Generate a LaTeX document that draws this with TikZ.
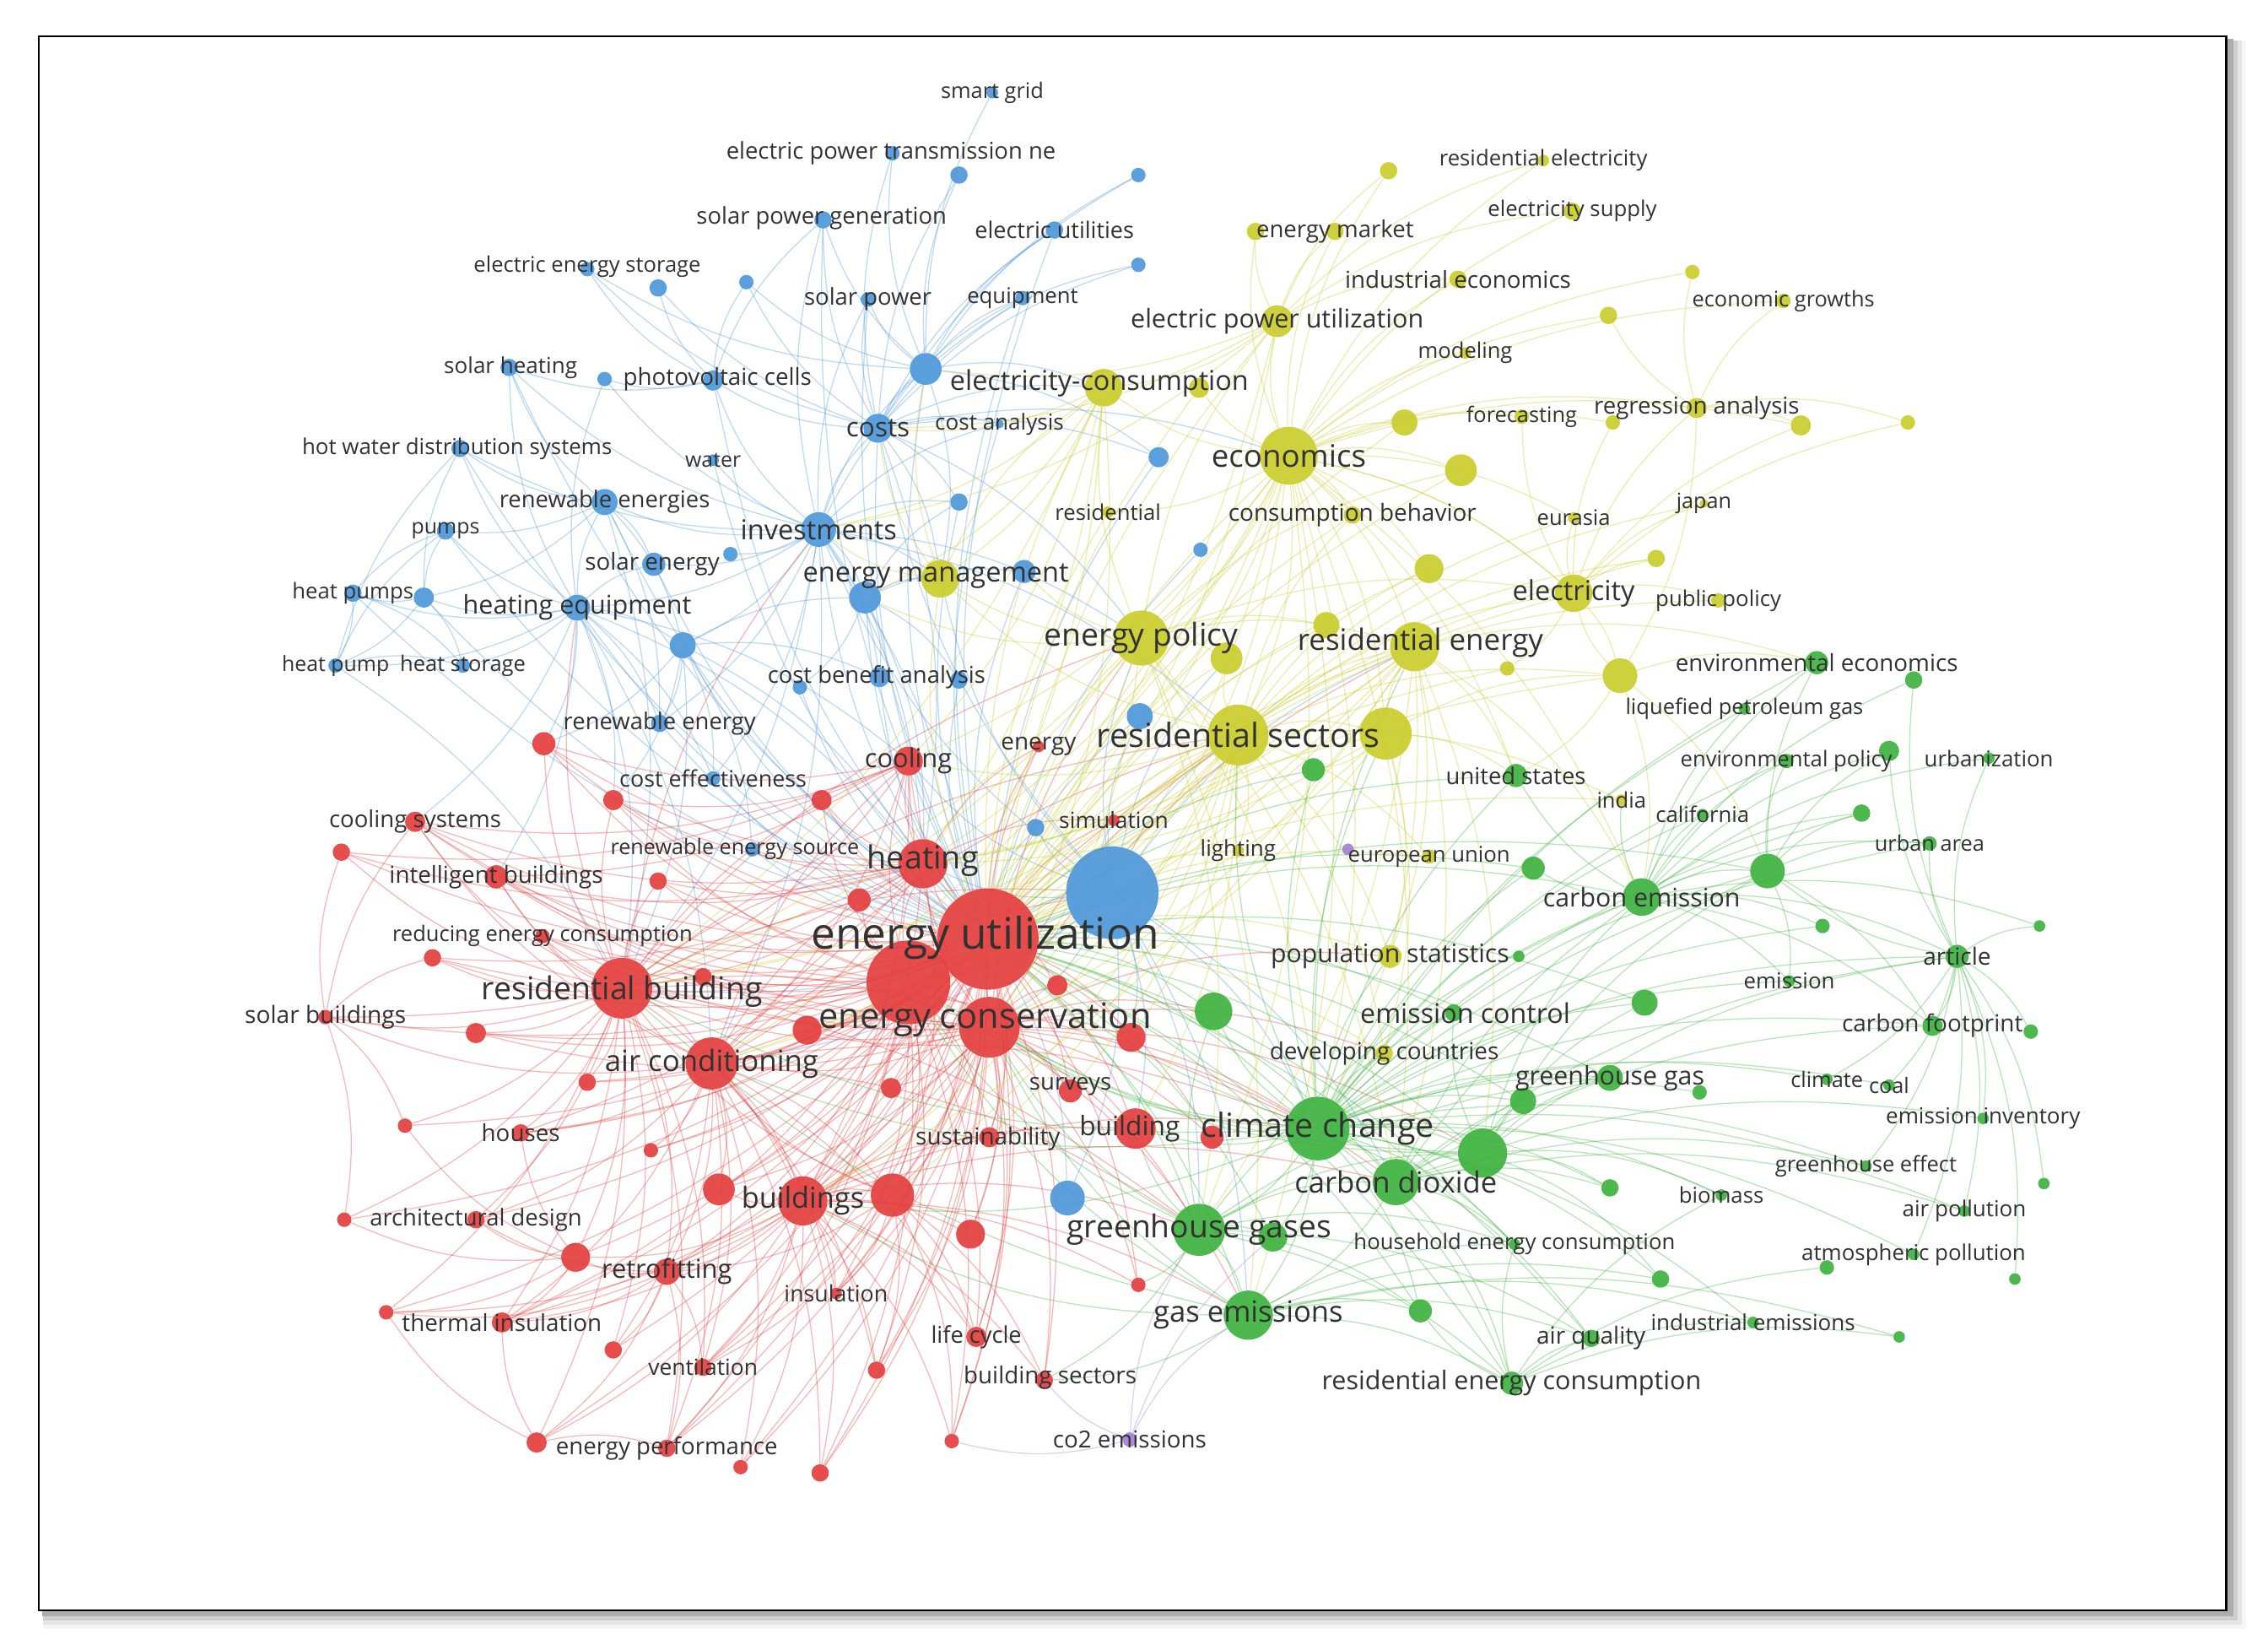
\documentclass[tikz,border=0pt]{standalone}
\usepackage{fontspec}
\setmainfont{Open Sans}
\definecolor{cR}{RGB}{228,62,62}
\definecolor{cB}{RGB}{78,152,218}
\definecolor{cY}{RGB}{202,204,44}
\definecolor{cG}{RGB}{62,178,62}
\definecolor{cP}{RGB}{165,125,215}
\definecolor{txt}{RGB}{50,50,50}
\pgfdeclarelayer{back}
\pgfdeclarelayer{edges}
\pgfsetlayers{back,edges,main}
\tikzset{
  vnode/.style={circle, inner sep=0pt, draw=none, fill opacity=0.92},
  vlab/.style={inner sep=0pt, text=txt},
  ebase/.style={line width=0.75pt, draw opacity=0.36},
  eR/.style={ebase, draw=cR},
  eB/.style={ebase, draw=cB},
  eY/.style={ebase, draw=cY},
  eG/.style={ebase, draw=cG},
  eP/.style={ebase, draw=cP},
}
\newcommand\vedges[3]{\foreach \b in {#3}{\draw[#1] (#2) to[bend left=14] (\b);}}
\begin{document}
\begin{tikzpicture}[x=1pt,y=-1pt]
\useasboundingbox (0,0) rectangle (1568,1140);
\begin{pgfonlayer}{back}
  \fill[white] (0,0) rectangle (1568,1140);
  \fill[black!4] (30,28) rectangle (1553,1126);
  \fill[black!10] (30,28) rectangle (1550,1123);
  \fill[black!19] (30,28) rectangle (1547,1120);
  \fill[black!32] (29,27) rectangle (1544,1117);
  \fill[white, draw=black, line width=1.4pt] (27,25) rectangle (1539,1113);
\end{pgfonlayer}

% ---------------- circles ----------------
\foreach \n/\x/\y/\r/\c in {
 sg/686/64/4/cB, eptn/617/106/5/cB, b3/663/121/6/cB, b4/787/121/5/cB, spg/569/152/6/cB,
 eut/729/159/6/cB, b7/787/183/5/cB, ees/406/186/5/cB, b9/455/199/6/cB, b10/516/195/5/cB,
 sp/600/207/5/cB, eqp/707/206/5/cB, sh/352/254/6/cB, b14/418/262/5/cB, pvc/493/263/7/cB,
 b16/640/255/11/cB, costs/607/296/10/cB, ca/691/293/3/cB, hwds/318/310/6/cB, water/493/318/4/cB,
 b21/663/347/6/cB, b22/801/316/7/cB, rens/418/347/9/cB, pumps/308/367/6/cB, inv/566/366/12/cB,
 se/452/390/8/cB, b27/505/383/5/cB, hps/244/410/6/cB, b29/293/413/7/cB, he/399/420/9/cB,
 hp/232/460/5/cB, hst/320/460/5/cB, b33/472/446/9/cB, cba/608/468/7/cB, b35/553/475/5/cB,
 b36/663/470/6/cB, b37/598/413/11/cB, b38/708/395/8/cB, ren/456/500/6/cB, ce/493/538/5/cB,
 b41/788/495/9/cB, b42/716/572/6/cB, b44/738/828/12/cB, b45/830/380/5/cB, res/520/587/5/cB,
 rel/1067/111/4/cY, y2/960/118/6/cY, esup/1087/146/6/cY, em/923/160/6/cY, y4b/868/160/6/cY,
 iec/1008/193/6/cY, egr/1233/208/5/cY, y7/1170/188/5/cY, y8/1112/218/6/cY, epu/883/222/11/cY,
 mod/1013/244/4/cY, ecc/763/268/13/cY, y11b/829/268/7/cY, fc/1052/288/5/cY, ra/1173/282/7/cY,
 y14/1245/294/7/cY, y14b/1319/292/5/cY, y14c/1115/292/5/cY, y15/971/292/9/cY, econ/891/315/20/cY,
 y17/1010/325/11/cY, resi/766/354/4/cY, cb/935/356/6/cY, eur/1088/358/4/cY, jap/1178/348/3/cY,
 y22/1145/386/6/cY, y23/988/393/10/cY, elec/1088/410/13/cY, pp/1188/415/5/cY, ep/789/441/19/cY,
 y27/848/455/11/cY, y28/917/432/9/cY, reg/978/447/17/cY, y30/1120/467/12/cY, rs/856/508/21/cY,
 y32/958/507/18/cY, y33/1042/462/5/cY, emg/650/400/13/cY, ps/961/661/8/cY, eun/988/592/5/cY,
 lig/856/588/4/cY, ind/1121/553/4/cY, dc/957/728/6/cY,
 envec/1256/458/8/cG, g2/1323/470/6/cG, lpg/1206/490/4/cG, urb/1375/524/4/cG, envp/1235/526/5/cG,
 g6/1306/519/7/cG, us/1048/536/8/cG, g8/908/532/8/cG, cal/1177/563/4/cG, ua/1334/583/5/cG,
 g11/1287/562/6/cG, g12/1222/602/12/cG, g13/1060/600/8/cG, cem/1135/620/13/cG, g15/1260/640/5/cG,
 g16/1410/640/4/cG, art/1353/661/8/cG, g18/1050/661/4/cG, emi/1237/678/4/cG, emc/1005/700/6/cG,
 g21/839/699/13/cG, g22/1137/693/9/cG, cfp/1336/709/7/cG, g24/1404/713/5/cG, ghg/1113/745/9/cG,
 g25b/1053/761/9/cG, g25c/1175/755/5/cG, clim/1263/746/4/cG, coal/1306/750/4/cG, einv/1371/773/4/cG,
 g29/1025/797/17/cG, cd/965/817/16/cG, gef/1290/806/4/cG, bio/1190/826/4/cG, g32b/1113/821/6/cG,
 g33/1413/818/4/cG, ap/1358/837/4/cG, g36/880/855/10/cG, ghgs/829/850/18/cG, hec/1047/860/4/cG,
 atp/1323/867/4/cG, g38b/1263/876/5/cG, g38c/1393/884/4/cG, g38d/1148/884/6/cG, gem/863/909/17/cG,
 g40/982/906/8/cG, aq/1100/925/6/cG, iem/1212/914/4/cG, g43/1313/924/4/cG, rec/1045/956/8/cG,
 cc/911/780/22/cG,
 co2/781/995/5/cP, p2/932/587/4/cP,
 r5/594/622/8/cR, r6/568/553/7/cR, r7/558/712/10/cR, r8/731/681/7/cR, r9/782/717/10/cR,
 r10/616/752/7/cR, sur/740/754/8/cR, bld/785/780/14/cR, sus/684/786/7/cR, r14/838/786/8/cR,
 r15/376/514/8/cR, r16/424/553/7/cR, cs/287/568/7/cR, r18/236/589/6/cR, ib/343/606/8/cR,
 r20/455/609/6/cR, redc/375/647/5/cR, r22/299/662/6/cR, r24/486/675/6/cR, sb/225/703/5/cR,
 r26/329/714/7/cR, r28/406/748/6/cR, r29/280/778/5/cR, hou/360/783/6/cR, r31/450/795/5/cR,
 r32/497/822/11/cR, r34/617/826/15/cR, r35/671/853/10/cR, ad/329/843/6/cR, r37/238/843/5/cR,
 r38/398/869/10/cR, retro/461/879/9/cR, ins/578/894/4/cR, r41/267/907/5/cR, ti/347/914/7/cR,
 r43/424/933/6/cR, vent/486/945/6/cR, r45/606/947/6/cR, lc/675/924/7/cR, bs/722/954/6/cR,
 r48/787/888/5/cR, r49/371/997/7/cR, epf/461/1001/6/cR, r51/512/1014/5/cR, r52/567/1018/6/cR,
 r53/658/996/5/cR, sim/770/567/4/cR, en/718/516/4/cR, cool/628/526/10/cR,
 rb/430/683/21/cR, ac/492/735/18/cR, bds/555/830/17/cR,
 heat/638/597/17/cR, econs/684/710/21/cR, eu2/628/679/29/cR, eu/683/649/35/cR,
 ee/769/617/32/cB}
 {\node[vnode, fill=\c, minimum size={2*\r*1pt}] (\n) at (\x,\y) {};}

% ---------------- edges ----------------
\begin{pgfonlayer}{edges}
\vedges{eB}{eu}{b16,costs,inv,rens,he,se,b33,cba,b35,b36,b37,b38,ren,ce,b41,ee,b44,b21,pvc,spg,sp,eqp,b22,res,b42,hps,b29,pumps,hwds,sh,eut,water,b45,ca}
\vedges{eB}{ee}{eu2,econs,heat,ep,rs,cc,ghgs,bld,rb,ac,inv,costs,b41,b44,y27,reg,emg,cd,gem,cool,r9,b42,sim}
\vedges{eB}{inv}{costs,b16,rens,se,he,b33,cba,b37,pvc,spg,sp,water,b27,hwds,eqp,ca,b21,ren,ce,b14,sh}
\vedges{eB}{costs}{b16,spg,eptn,sp,eqp,ca,b3,eut,ees,b9,b10,pvc,b21,b22,b4,b7}
\vedges{eB}{he}{hps,hp,hst,pumps,b29,rens,se,sh,hwds,b33,ren,ce,b14}
\vedges{eB}{b29}{hps,hp,hst,pumps,hwds}
\vedges{eB}{hps}{hp,pumps,hst}
\vedges{eB}{b16}{eut,b7,b4,b3,eptn,sg,spg,sp,eqp,ees,b10,ecc,emg,b22}
\vedges{eB}{b33}{rb,ren,ce,heat,r15,r16,res,b37,cba}
\vedges{eB}{b37}{cba,b35,b36,b38,b21,emg,heat}
\vedges{eB}{pvc}{ees,b9,b10,sh,b14,spg}
\vedges{eB}{he}{rb,ac,heat,cool,r15,r16,cs,ib}
\vedges{eB}{inv}{rb,ac,heat,econs,ep,emg,rs}
\vedges{eB}{costs}{ep,emg,econ,ecc,heat}
\vedges{eB}{rens}{se,ren,b33,hwds,sh,pumps,b29,rb}
\vedges{eB}{hp}{pumps,hst,hwds,rb}
\vedges{eR}{eu}{econs,heat,cool,en,r5,r6,r7,r8,r9,r10,sur,bld,sus,r14,r15,r16,cs,r18,ib,r20,redc,r22,rb,r24,sb,r26,ac,r28,r29,hou,r31,r32,bds,r34,r35,ad,r37,r38,retro,ins,r41,ti,r43,vent,r45,lc,bs,r48,r49,epf,r51,r52,r53,sim}
\vedges{eR}{eu2}{heat,cool,r5,r6,r7,r10,rb,ac,bds,r34,r32,r24,r20,r16,r15,ib,cs,redc,r22,r26,r28,hou,r31,retro,ins,ti,vent,r45,epf,r52,r53,lc,sus,sur}
\vedges{eR}{rb}{redc,ib,cs,r18,sb,r22,r26,r28,r29,hou,ad,r37,r38,retro,ti,r41,r43,r49,epf,ac,bds,r15,r16,r20,r24,heat,cool,econs,vent}
\vedges{eR}{ac}{bds,r32,r34,retro,ins,vent,hou,r31,ad,ti,r43,r45,lc,epf,r51,r52,heat,cool,sb,ib,cs,econs}
\vedges{eR}{bds}{r34,r35,retro,ins,lc,bs,vent,r45,r53,r52,r51,epf,r49,ti,r41,bld,sus,r48,r38,r32}
\vedges{eR}{econs}{bld,sur,sus,r8,r9,r10,r14,r35,lc,bs,r48,r53,heat,cool,en,r34}
\vedges{eR}{heat}{cool,en,r5,r6,ib,cs,r16,r20,sim,res}
\vedges{eR}{sb}{r37,r29,cs,r18,r22}
\vedges{eR}{r49}{epf,ti,r41}
\vedges{eR}{econs}{rb,ac,bds,r32,r7,r24,r26,ib,cs,redc,retro,ti,epf,vent,ins,r45,r52,r51}
\vedges{eR}{r34}{ac,rb,retro,lc,bs,r53,r45,ins,vent}
\vedges{eR}{heat}{rb,ac,bds,r34,r15,r18,r22,sb,hou}
\vedges{eR}{cool}{rb,ac,cs,ib,r15,r16,r18,bds}
\vedges{eR}{retro}{ti,r43,vent,epf,r49,ad,r38,r41}
\vedges{eR}{r38}{ad,ti,r41,r37,hou,r29}
\vedges{eR}{rb}{cc,ghgs,rs,ep,ee,he,inv}
\vedges{eR}{ac}{cc,ghgs,rs,ee}
\vedges{eR}{bds}{cc,ghgs,gem,cd,rs}
\vedges{eR}{econs}{cc,ghgs,gem,cd,g29,rs,ep,reg,g21,ps,dc}
\vedges{eY}{eu}{econ,rs,y32,ep,y27,y28,reg,y30,elec,y23,y17,y15,ecc,y11b,epu,emg,cb,resi,ps,dc,lig,eun,ind,y33,y22}
\vedges{eY}{econ}{epu,ecc,y11b,y15,y17,em,y4b,iec,y2,rel,esup,mod,fc,ra,y14,y14c,cb,resi,eur,ep,reg,rs,y32,y23,elec,y8,y7,egr}
\vedges{eY}{rs}{ep,reg,y32,elec,y30,y23,y28,y27,cb,jap,pp,eur,y22,ind,eun,lig,ps,dc,emg,econs,heat,eu2}
\vedges{eY}{ep}{emg,ecc,epu,y27,y28,reg,y17,elec,b38,b37}
\vedges{eY}{elec}{ra,y14,y14b,y14c,y22,jap,pp,eur,y30,fc,y33}
\vedges{eY}{ra}{egr,y14,y14b,y7,y8,y30}
\vedges{eY}{epu}{em,y4b,iec,esup,y2,rel,ecc}
\vedges{eY}{emg}{inv,costs,ecc,b16}
\vedges{eY}{y32}{y30,reg,ps,dc,us,g8}
\vedges{eY}{econ}{cc,cd,ghgs,gem,us,cem,elec}
\vedges{eY}{reg}{cc,cd,g29,ghgs,us,cem,envec,ps}
\vedges{eY}{ep}{cc,cd,ghgs,gem,econs,eu2,rb}
\vedges{eY}{y30}{envec,cem,us,g12,elec}
\vedges{eY}{rs}{heat,cool,r9,bld,sur,sus,ac,rb,bds,r7,r34}
\vedges{eY}{econ}{eu2,heat,econs,cool,rb,ac,ee,b41}
\vedges{eY}{ecc}{eu2,heat,cool,costs,inv,econs,rb,emg,b37}
\vedges{eY}{reg}{eu2,heat,econs,rb,ac,bds}
\vedges{eY}{y32}{eu2,econs,heat}
\vedges{eY}{epu}{eu,eu2,costs,b16,inv}
\vedges{eG}{eu}{cc,g29,cd,ghgs,g36,gem,g40,cem,g12,g13,g21,g22,ghg,g25b,rec,hec,aq,us,g8,emc}
\vedges{eG}{cc}{g29,cd,ghgs,g36,gem,g40,cem,g12,g13,g21,g22,ghg,g25b,g25c,rec,hec,aq,us,g8,emc,envec,envp,lpg,cal,ua,art,emi,cfp,clim,coal,gef,bio,g32b,ap,atp,iem,g38d,g15,g11,rs,y32,reg,ps,dc}
\vedges{eG}{ghgs}{cd,gem,g36,g40,rec,hec,aq,g21,g29,cem,ghg,econs,eu2,bld,bs,r48}
\vedges{eG}{cd}{g29,gem,rec,hec,cem,g12,ghg,art,cfp,einv,gef,ap,g32b}
\vedges{eG}{gem}{rec,g40,aq,hec,iem,g38d,g43,bs}
\vedges{eG}{cem}{g12,g13,art,emi,ua,urb,g11,cal,envp,envec,g2,g6,g15,g16,cfp,us,ind,lpg}
\vedges{eG}{art}{g12,g16,g24,cfp,ua,urb,einv,clim,coal,ap,gef,g33,atp,g38c,g6,g2}
\vedges{eG}{g12}{g11,ua,envec,g6,cfp,emi,envp}
\vedges{eG}{rec}{aq,hec,iem,g43,g38b,bio,g40}
\vedges{eG}{g29}{ghg,g25b,g22,emc,g32b,bio,g38d}
\vedges{eG}{cc}{econs,eu2,bld,rb,ac,bds,heat}
\vedges{eG}{g29}{econs,eu2,cem,g12,art}
\vedges{eG}{gem}{econs,eu2,rb,bds}
\vedges{eP}{co2}{gem,ghgs,bs,r53,g36}
\end{pgfonlayer}

% ---------------- labels ----------------
\foreach \n/\x/\y/\s/\t in {
 sg/686/64/14.8/smart grid, eptn/616/106/16/electric power transmission ne,
 spg/568/151/16/solar power generation, eut/729/159/15.8/electric utilities,
 ees/406/184/14.9/electric energy storage, sp/600/207/16/solar power, eqp/707/206/15/equipment,
 sh/353/254/15.2/solar heating, pvc/496/262/16.2/photovoltaic cells, costs/607/296/18.4/costs,
 ca/691/293/15.2/cost analysis, hwds/316/310/15.1/hot water distribution systems,
 water/493/318/14.5/water, rens/418/347/16/renewable energies, pumps/308/367/14.5/pumps,
 inv/566/366/19/investments, se/451/390/16.2/solar energy, hps/244/410/15/heat pumps,
 he/399/420/17.8/heating equipment, hp/232/460/14.5/heat pump, hst/320/460/14.9/heat storage,
 cba/606/468/16/cost benefit analysis, ren/456/500/16/renewable energy,
 ce/493/538/15.7/cost effectiveness, res/508/587/14.7/renewable energy source,
 rel/1067/111/15/residential electricity, esup/1087/146/15/electricity supply,
 em/923/160/16.1/energy market, iec/1008/193/16.2/industrial economics,
 egr/1233/208/14.8/economic growths, epu/883/222/17.8/electric power utilization,
 mod/1013/244/14.9/modeling, ecc/760/265/18.9/electricity-consumption, fc/1052/288/14.8/forecasting,
 ra/1173/282/16.1/regression analysis, econ/891/315/21.4/economics, resi/766/354/15/residential,
 cb/935/356/16.3/consumption behavior, eur/1088/358/14.9/eurasia, jap/1178/348/14.7/japan,
 elec/1088/410/19/electricity, pp/1188/415/15/public policy, ep/789/441/21.8/energy policy,
 reg/982/444/20.4/residential energy, rs/856/508/23/residential sectors,
 emg/647/398/19/energy management, ps/961/661/17.6/population statistics,
 eun/988/592/15/european union, lig/856/588/15.2/lighting, ind/1121/553/14.9/india,
 dc/957/728/16.3/developing countries,
 envec/1256/458/16.2/environmental economics, lpg/1206/490/14.9/liquefied petroleum gas,
 urb/1375/524/15.1/urbanization, envp/1235/526/15/environmental policy,
 us/1048/536/16/united states, cal/1177/563/15/california, ua/1334/583/14.8/urban area,
 cem/1135/620/17.7/carbon emission, art/1353/661/16.4/article, emi/1237/678/15.1/emission,
 emc/1013/700/18.8/emission control, cfp/1336/709/16.3/carbon footprint,
 ghg/1113/745/17.7/greenhouse gas, clim/1263/746/14.8/climate, coal/1306/750/14.7/coal,
 einv/1371/773/15.2/emission inventory, cc/911/780/23/climate change,
 cd/965/817/20.2/carbon dioxide, gef/1290/806/14.9/greenhouse effect, bio/1190/826/15/biomass,
 ap/1358/837/15.2/air pollution, ghgs/829/850/21.7/greenhouse gases,
 hec/1047/860/15/household energy consumption, atp/1323/867/15.1/atmospheric pollution,
 gem/863/909/20.2/gas emissions, aq/1100/925/16.3/air quality,
 iem/1212/914/15.2/industrial emissions, rec/1045/956/17.8/residential energy consumption,
 co2/781/995/16.2/co2 emissions,
 eu/681/648/30/energy utilization, econs/681/705/24.3/energy conservation,
 heat/638/595/22/heating, cool/628/526/18/cooling, en/718/516/16.3/energy,
 sur/740/751/16.1/surveys, bld/781/780/18.5/building, sus/683/787/16.3/sustainability,
 sim/770/567/15.4/simulation, cs/287/568/16.1/cooling systems,
 ib/343/606/16.2/intelligent buildings, redc/375/647/14.9/reducing energy consumption,
 rb/430/685/21.8/residential building, sb/225/703/16.4/solar buildings,
 ac/492/735/20.3/air conditioning, hou/360/783/16.2/houses, bds/555/830/20/buildings,
 ad/329/843/16/architectural design, retro/461/879/18/retrofitting, ins/578/894/15.6/insulation,
 ti/347/914/16.2/thermal insulation, vent/486/945/15.4/ventilation, lc/675/924/15.9/life cycle,
 bs/726/952/16.2/building sectors, epf/461/1001/16.1/energy performance}
 {\node[vlab, font=\fontsize{\s}{\s}\selectfont] (l-\n) at (\x,\y) {\t};}
\end{tikzpicture}
\end{document}
